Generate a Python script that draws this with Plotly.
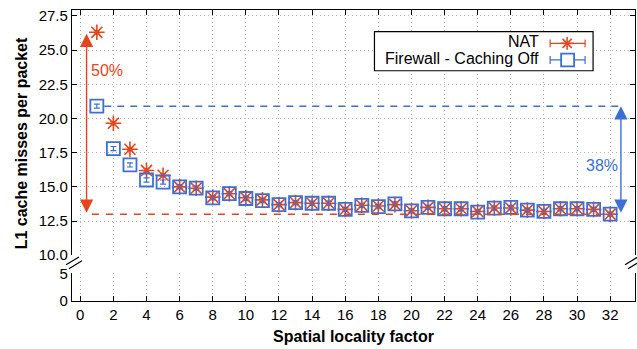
import plotly.graph_objects as go

# Spatial locality factor (x) and L1 cache misses per packet for each workload
locality = list(range(1, 33))
nat_misses = [26.3, 19.65, 17.75, 16.2, 15.85, 15.0, 14.9, 14.25, 14.5, 14.2,
              14.05, 13.7, 13.85, 13.8, 13.8, 13.35, 13.65, 13.6, 13.7, 13.25,
              13.5, 13.4, 13.4, 13.2, 13.45, 13.45, 13.3, 13.2, 13.4, 13.4,
              13.35, 13.0]
nat_err = [0.12] * 32
fw_misses = [20.9, 17.8, 16.6, 15.5, 15.35, 15.0, 14.9, 14.2, 14.5, 14.15,
             14.0, 13.7, 13.85, 13.8, 13.8, 13.35, 13.65, 13.55, 13.75, 13.25,
             13.5, 13.4, 13.4, 13.15, 13.45, 13.5, 13.3, 13.2, 13.4, 13.4,
             13.35, 13.0]
fw_err = [0.15] * 32

x_ticks = list(range(0, 33, 2))
upper_ticks = [10.0, 12.5, 15.0, 17.5, 20.0, 22.5, 25.0, 27.5]
lower_ticks = [0, 5]

RED = "#e6441c"
BLUE = "#3c6fd6"
GRID = "#b4b4b4"
FONT = "Liberation Sans, Arial, sans-serif"

W, H = 637, 349
ML, MR, MT, MB = 72, 1, 4, 48
PW, PH = W - ML - MR, H - MT - MB


def px(xp):
    return (xp - ML) / PW


def py(yp):
    return (H - MB - yp) / PH


fig = go.Figure()

# empty trace so the lower (broken-off) panel is drawn
fig.add_trace(go.Scatter(x=[None], y=[None], xaxis="x", yaxis="y",
                         mode="markers", showlegend=False, hoverinfo="skip"))

fig.add_trace(go.Scatter(
    x=locality, y=nat_misses, xaxis="x2", yaxis="y2", mode="markers",
    name="NAT",
    marker=dict(symbol="asterisk-open", size=13, color=RED,
                line=dict(color=RED, width=1.6)),
    error_y=dict(type="data", array=nat_err, color=RED, thickness=1, width=3),
    showlegend=False,
))
fig.add_trace(go.Scatter(
    x=locality, y=fw_misses, xaxis="x2", yaxis="y2", mode="markers",
    name="Firewall - Caching Off",
    marker=dict(symbol="square-open", size=13, color=BLUE,
                line=dict(color=BLUE, width=1.8)),
    error_y=dict(type="data", array=fw_err, color=BLUE, thickness=1.2, width=3),
    showlegend=False,
))

nat_base = min(nat_misses)
fw_top = fw_misses[0]

shapes = [
    # reference levels
    dict(type="line", xref="x2", yref="y2", x0=0.7, x1=32.3,
         y0=nat_base, y1=nat_base, line=dict(color=RED, width=1.5, dash="7px,7px")),
    dict(type="line", xref="x2", yref="y2", x0=1.45, x1=32.6,
         y0=fw_top, y1=fw_top, line=dict(color=BLUE, width=1.5, dash="7px,6px")),
]

# axis break marks
for x0 in (66, 626):
    for dx, dy in ((0, 0), (3, 4)):
        shapes.append(dict(type="line", xref="paper", yref="paper",
                           x0=px(x0 + dx), y0=py(264 + dy),
                           x1=px(x0 + dx + 13), y1=py(256 + dy),
                           line=dict(color="black", width=1.2)))

# legend box and samples
shapes.append(dict(type="rect", xref="paper", yref="paper",
                   x0=px(375), x1=px(594), y0=py(66), y1=py(26),
                   line=dict(color="black", width=1.2), fillcolor="white"))
for yy, col in ((38, RED), (55, BLUE)):
    shapes.append(dict(type="line", xref="paper", yref="paper",
                       x0=px(551), x1=px(586), y0=py(yy), y1=py(yy),
                       line=dict(color=col, width=1.2)))
    for xc in (551, 586):
        shapes.append(dict(type="line", xref="paper", yref="paper",
                           x0=px(xc), x1=px(xc), y0=py(yy - 4), y1=py(yy + 4),
                           line=dict(color=col, width=1.2)))
# asterisk sample
cx, cy, r, d = 568, 38, 6.5, 4.6
for (ax_, ay_, bx_, by_) in ((cx - r, cy, cx + r, cy), (cx, cy - r, cx, cy + r),
                             (cx - d, cy - d, cx + d, cy + d),
                             (cx - d, cy + d, cx + d, cy - d)):
    shapes.append(dict(type="line", xref="paper", yref="paper",
                       x0=px(ax_), y0=py(ay_), x1=px(bx_), y1=py(by_),
                       line=dict(color=RED, width=1.6)))
shapes.append(dict(type="rect", xref="paper", yref="paper",
                   x0=px(562), x1=px(575), y0=py(61.5), y1=py(48.5),
                   line=dict(color=BLUE, width=1.8), fillcolor="white"))


def label(x, y, text, size=16, color="black", xanchor="center", angle=0):
    return dict(x=px(x), y=py(y), xref="paper", yref="paper", text=text,
                showarrow=False, xanchor=xanchor, yanchor="middle",
                textangle=angle, font=dict(size=size, color=color, family=FONT))


annotations = [
    dict(x=0.38, y=nat_misses[0] - 0.1, ax=0.38, ay=nat_base, xref="x2", yref="y2",
         axref="x2", ayref="y2", text="", showarrow=True, arrowhead=2,
         arrowside="end+start", arrowsize=1.9, arrowwidth=1.4, arrowcolor=RED),
    dict(x=32.65, y=fw_top, ax=32.65, ay=nat_base, xref="x2", yref="y2",
         axref="x2", ayref="y2", text="", showarrow=True, arrowhead=2,
         arrowside="end+start", arrowsize=1.9, arrowwidth=1.4, arrowcolor=BLUE),
    label(107, 66, "50%", color=RED),
    label(603, 163, "38%", color=BLUE),
    label(542, 36, "NAT", xanchor="right"),
    label(542, 53, "Firewall - Caching Off", xanchor="right"),
    label(21, 140, "<b>L1 cache misses per packet</b>", angle=-90),
    label(354, 337, "<b>Spatial locality factor</b>"),
]

axis_common = dict(showgrid=True, gridcolor=GRID, griddash="1px,3px", gridwidth=1,
                   ticks="inside", ticklen=5, tickcolor="black", linecolor="black",
                   linewidth=1.2, zeroline=False,
                   tickfont=dict(size=15, color="black", family=FONT))

fig.update_layout(
    width=W, height=H,
    margin=dict(l=ML, r=MR, t=MT, b=MB),
    plot_bgcolor="white", paper_bgcolor="white",
    showlegend=False,
    xaxis=dict(domain=[0, 1], anchor="y", range=[-0.5, 33.5], tickvals=x_ticks,
               showline=True, **axis_common),
    xaxis2=dict(domain=[0, 1], anchor="y2", range=[-0.5, 33.5], tickvals=x_ticks,
                side="top", showline=True, showticklabels=False, **axis_common),
    yaxis=dict(domain=[0, py(272.7)], anchor="x", range=[0, 5], tickvals=lower_ticks,
               showline=True, mirror="ticks", **axis_common),
    yaxis2=dict(domain=[py(254.3), 1], anchor="x2", range=[10, 27.93],
                tickvals=upper_ticks, tickformat=".1f",
                showline=True, mirror="ticks", **axis_common),
    shapes=shapes,
    annotations=annotations,
)

fig.write_html("out.html")
